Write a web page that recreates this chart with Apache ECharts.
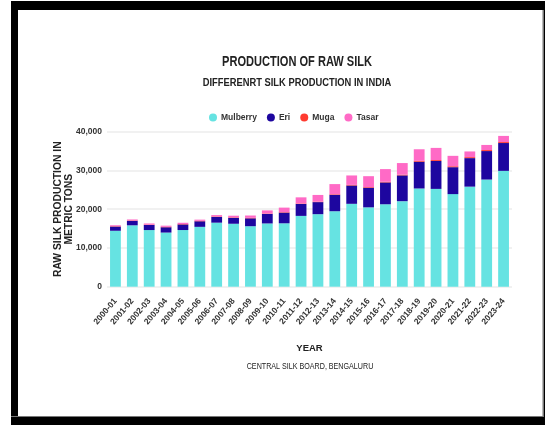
<!DOCTYPE html>
<html>
<head>
<meta charset="utf-8">
<script src="https://cdn.jsdelivr.net/npm/echarts@6/dist/echarts.min.js"></script>
<style>html,body{margin:0;padding:0;background:#fff;}#c{width:545px;height:425px;}</style>
</head>
<body>
<div id="c"></div>
<script>
const categories = ['2000-01','2001-02','2002-03','2003-04','2004-05','2005-06','2006-07','2007-08','2008-09','2009-10','2010-11','2011-12','2012-13','2013-14','2014-15','2015-16','2016-17','2017-18','2018-19','2019-20','2020-21','2021-22','2022-23','2023-24'];
const mulberry = [14432,15842,14617,13970,14620,15445,16525,16245,15610,16322,16360,18272,18715,19476,21390,20478,21273,22066,25345,25239,23896,25818,27654,29892];
const eri = [1089,1160,1305,1372,1448,1442,1485,1530,2038,2460,2760,3072,3116,4237,4726,5060,5637,6661,6910,7204,6946,7364,7349,7183];
const muga = [99,100,103,105,110,110,115,117,119,105,124,126,119,148,158,166,170,192,232,241,239,255,261,252];
const tasar = [237,249,294,301,322,308,350,428,603,803,1166,1590,1729,2619,2434,2819,3268,2988,2981,3136,2689,1466,1318,1586];
const yTicks = [0,10000,20000,30000,40000];

const FONT = "'Liberation Sans','Roboto',sans-serif";
const chart = echarts.init(document.getElementById('c'), null, {renderer:'canvas'});
const mk = (name, data, color) => ({
  name, type:'bar', stack:'total', data, barCategoryGap:'36%',
  itemStyle:{color}, emphasis:{disabled:true}
});
chart.setOption({
  animation:false,
  backgroundColor:'#ffffff',
  legend:{
    data:['Mulberry','Eri','Muga','Tasar'],
    left:204, top:108, icon:'circle', itemWidth:8, itemHeight:8, itemGap:10,
    textStyle:{fontFamily:FONT, fontSize:8.5, fontWeight:'bold', color:'#333', padding:[0,0,0,-1]},
    selectedMode:false
  },
  grid:{left:107, right:33, top:131.7, bottom:138.3, containLabel:false},
  xAxis:{
    type:'category', data:categories,
    axisLine:{show:false}, axisTick:{show:false},
    axisLabel:{rotate:50, interval:0, margin:13, fontFamily:FONT, fontSize:8.5, fontWeight:'bold', color:'#333'},
    name:'YEAR', nameLocation:'middle', nameGap:57, nameMoveOverlap:false,
    nameTextStyle:{fontFamily:FONT, fontSize:9.5, fontWeight:'bold', color:'#222'}
  },
  yAxis:{
    type:'value', min:yTicks[0], max:yTicks[yTicks.length-1], interval:yTicks[1]-yTicks[0],
    axisLine:{show:false}, axisTick:{show:false},
    splitLine:{lineStyle:{color:'#ececec', width:1.5}},
    axisLabel:{margin:5, fontFamily:FONT, fontSize:8.5, fontWeight:'bold', color:'#333',
      formatter:v=>v.toLocaleString('en-US')},
    name:'RAW SILK PRODUCTION IN\nMETRIC TONS', nameLocation:'middle', nameGap:32, nameRotate:90, nameMoveOverlap:false,
    nameTextStyle:{fontFamily:FONT, fontSize:10.3, fontWeight:'bold', color:'#222', lineHeight:11}
  },
  series:[
    mk('Mulberry', mulberry, '#66e3e2'),
    mk('Eri', eri, '#1d069f'),
    mk('Muga', muga, '#ff3b30'),
    mk('Tasar', tasar, '#ff6ac6')
  ],
  graphic:[
    {type:'text', x:297, y:62, scaleX:0.79, silent:true,
     style:{text:'PRODUCTION OF RAW SILK', font:"bold 14px 'Liberation Sans',sans-serif", fill:'#222', align:'center', verticalAlign:'middle'}},
    {type:'text', x:297, y:83, scaleX:0.85, silent:true,
     style:{text:'DIFFERENRT SILK PRODUCTION IN INDIA', font:"bold 11px 'Liberation Sans',sans-serif", fill:'#222', align:'center', verticalAlign:'middle'}},
    {type:'text', x:310, y:366.5, scaleX:0.84, silent:true,
     style:{text:'CENTRAL SILK BOARD, BENGALURU', font:"8.5px 'Liberation Sans',sans-serif", fill:'#222', align:'center', verticalAlign:'middle'}},
    {type:'rect', shape:{x:11,y:1,width:534,height:9}, style:{fill:'#000'}, silent:true},
    {type:'rect', shape:{x:11,y:1,width:7,height:424}, style:{fill:'#000'}, silent:true},
    {type:'rect', shape:{x:11,y:417,width:534,height:8}, style:{fill:'#000'}, silent:true},
    {type:'rect', shape:{x:11,y:416,width:534,height:1}, style:{fill:'#777'}, silent:true},
    {type:'rect', shape:{x:542.5,y:10,width:1.5,height:407}, style:{fill:'#777'}, silent:true},
    {type:'rect', shape:{x:544,y:1,width:1,height:424}, style:{fill:'#000'}, silent:true}
  ]
});
</script>
</body>
</html>
